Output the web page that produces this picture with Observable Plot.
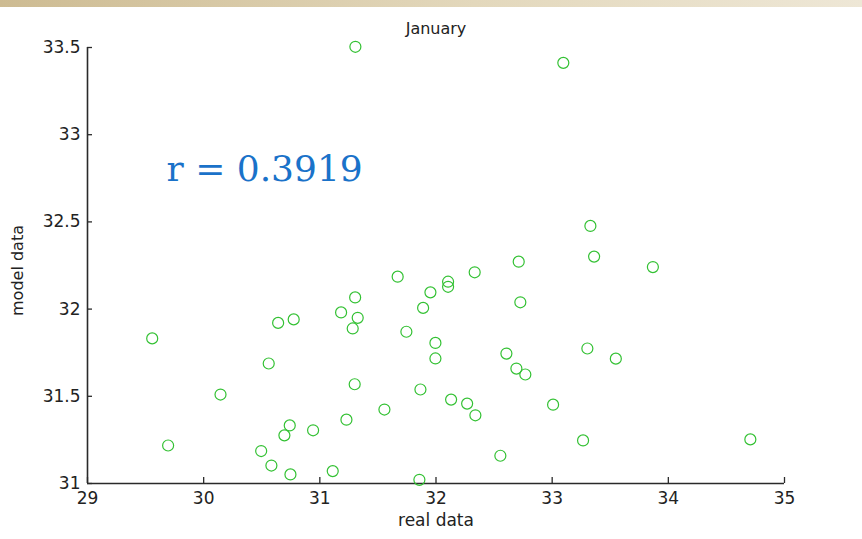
<!DOCTYPE html>
<html>
<head>
<meta charset="utf-8">
<script src="https://cdn.jsdelivr.net/npm/d3@7"></script>
<script src="https://cdn.jsdelivr.net/npm/@observablehq/plot@0.6"></script>
<style>
  html, body { margin: 0; padding: 0; background: #fff; }
  #wrap { position: relative; width: 862px; height: 539px; overflow: hidden; background: #fff; }
  #strip { position: absolute; left: 0; top: 0; width: 862px; height: 7px;
           background: linear-gradient(to right, #cdbb92, #e3d8bc 55%, #eee7d6); z-index: 2; }
  #wrap svg { position: absolute; left: 0; top: 0; }
</style>
</head>
<body>
<div id="wrap"><div id="strip"></div></div>
<script>
// ---- data ----
const realData = [
  29.557, 29.694, 30.145, 30.560, 30.641, 30.775, 30.741, 30.695, 30.495, 30.583,
  30.747, 30.942, 31.111, 31.183, 31.304, 31.326, 31.283, 31.300, 31.229, 31.556,
  31.306, 31.670, 31.745, 31.889, 31.952, 32.104, 32.104, 32.333, 31.995, 31.995,
  31.866, 32.130, 32.268, 32.339, 31.857, 32.554, 32.712, 32.726, 32.606, 32.692,
  32.769, 33.008, 33.266, 33.303, 33.548, 33.329, 33.361, 33.867, 33.096, 34.706
];
const modelData = [
  31.832, 31.218, 31.510, 31.688, 31.921, 31.941, 31.333, 31.276, 31.186, 31.103,
  31.052, 31.305, 31.071, 31.981, 32.067, 31.950, 31.889, 31.569, 31.366, 31.424,
  33.504, 32.186, 31.870, 32.007, 32.096, 32.157, 32.128, 32.211, 31.806, 31.717,
  31.539, 31.481, 31.458, 31.391, 31.021, 31.159, 32.272, 32.039, 31.745, 31.659,
  31.625, 31.452, 31.247, 31.774, 31.716, 32.477, 32.301, 32.241, 33.412, 31.253
];
const xTicks = [29, 30, 31, 32, 33, 34, 35];
const yTicks = [31, 31.5, 32, 32.5, 33, 33.5];
const titleText = ["January"];
const xLabelText = ["real data"];
const yLabelText = ["model data"];
const annotationText = ["r = 0.3919"];

const points = realData.map((x, i) => ({x, y: modelData[i]}));

// ---- layout ----
const W = 862, H = 539;
const mL = 87, mR = 78, mT = 47, mB = 56;
const fw = W - mL - mR, fh = H - mT - mB;
const axisColor = "#2a2a2a";
const txt = d => d;

const chart = Plot.plot({
  width: W,
  height: H,
  marginLeft: mL,
  marginRight: mR,
  marginTop: mT,
  marginBottom: mB,
  style: {
    fontFamily: "'DejaVu Sans', sans-serif",
    fontSize: "16px",
    color: "#222",
    background: "transparent",
    overflow: "visible"
  },
  x: {domain: [29, 35]},
  y: {domain: [31, 33.5]},
  marks: [
    // inward tick marks
    Plot.ruleX(xTicks, {x: txt, insetTop: fh - 6, stroke: axisColor, strokeWidth: 1.3}),
    Plot.ruleY(yTicks, {y: txt, insetRight: fw - 5, stroke: axisColor, strokeWidth: 1.3}),
    // axis lines (left and bottom only)
    Plot.ruleY([31], {stroke: axisColor, strokeWidth: 1.6}),
    Plot.ruleX([29], {stroke: axisColor, strokeWidth: 1.6}),
    // tick labels
    Plot.axisX(xTicks, {tickSize: 0, tickPadding: 8, label: null, fill: "#222", fontSize: 17,
                        tickFormat: d => String(d)}),
    Plot.axisY(yTicks, {tickSize: 0, tickPadding: 7, label: null, fill: "#222", fontSize: 17,
                        tickFormat: d => String(d)}),
    // data
    Plot.dot(points, {x: "x", y: "y", r: 5.5, stroke: "#33c133", strokeWidth: 1.2, fill: "none"}),
    // title and axis labels
    Plot.text(titleText, {text: txt, frameAnchor: "top", lineAnchor: "middle", dy: -19, fontSize: 16, fill: "#222"}),
    Plot.text(xLabelText, {text: txt, frameAnchor: "bottom", lineAnchor: "middle", dy: 37, fontSize: 17, fill: "#222"}),
    Plot.text(yLabelText, {text: txt, frameAnchor: "left", textAnchor: "middle", lineAnchor: "middle",
                           dx: -70, dy: 5, rotate: -90, fontSize: 16, fill: "#222"}),
    // correlation annotation
    Plot.text(annotationText, {
      text: txt, frameAnchor: "top-left", dx: 79, dy: 133,
      textAnchor: "start", lineAnchor: "bottom",
      fill: "#1a72c9", fontFamily: "'DejaVu Serif', serif", fontSize: 36
    })
  ]
});

document.getElementById("wrap").appendChild(chart);
</script>
</body>
</html>
